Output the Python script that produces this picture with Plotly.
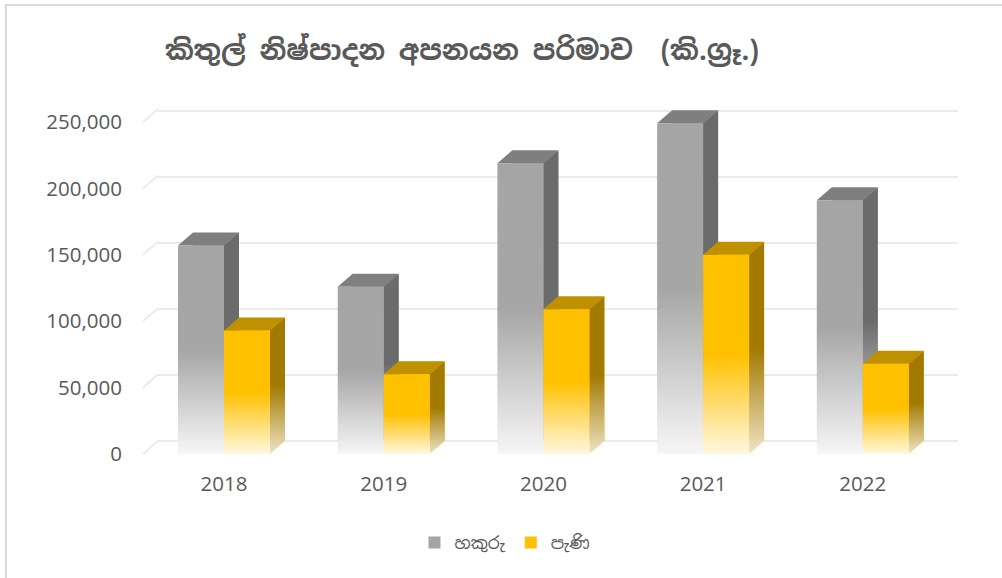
import plotly.graph_objects as go

# ---------------- data ----------------
years = ["2018", "2019", "2020", "2021", "2022"]
hakuru = [157000, 126000, 219000, 249000, 191000]
pani = [93000, 60000, 109000, 150000, 68000]
series_names = ["හකුරු", "පැණි"]
y_ticks = [0, 50000, 100000, 150000, 200000, 250000]
y_tick_text = ["0", "50,000", "100,000", "150,000", "200,000", "250,000"]
title_text = "කිතුල් නිෂ්පාදන අපනයන පරිමාව  (කි.ග්‍රෑ.)"

# ---------------- geometry (pixels) ----------------
W, H = 1002, 578
L, R, T, B = 143, 44, 95, 117
PW, PH = W - L - R, H - T - B
FRONT_X0, FRONT_X1 = 143, 943
FRONT_Y_TOP, FRONT_Y_BOT = 106, 461
DEPTH_DX, DEPTH_DY = 15, 13
CAT_PX, FIRST_CAT_PX = 159.7, 224
ZERO_PX = 454
Y_PX_PER_UNIT = 66.4 / 50000
BAR_W_PX = 46

xa = (FRONT_X0 - FIRST_CAT_PX) / CAT_PX
xb = (FRONT_X1 - FIRST_CAT_PX) / CAT_PX
Y0 = -(FRONT_Y_BOT - ZERO_PX) / Y_PX_PER_UNIT
Y1 = (ZERO_PX - FRONT_Y_TOP) / Y_PX_PER_UNIT
DX = DEPTH_DX / CAT_PX
DY = DEPTH_DY / Y_PX_PER_UNIT
BW = BAR_W_PX / CAT_PX

front_xdom = [(FRONT_X0 - L) / PW, (FRONT_X1 - L) / PW]
back_xdom = [(FRONT_X0 + DEPTH_DX - L) / PW, min(1, (FRONT_X1 + DEPTH_DX - L) / PW)]
front_ydom = [(H - B - FRONT_Y_BOT) / PH, (H - B - FRONT_Y_TOP) / PH]
back_ydom = [(H - B - FRONT_Y_BOT + DEPTH_DY) / PH, min(1, (H - B - FRONT_Y_TOP + DEPTH_DY) / PH)]

styles = [
    dict(front=[[0, "#F6F6F6"], [0.5, "#A6A6A6"], [1, "#A5A5A5"]],
         side=[[0, "#EDEDED"], [0.5, "#6B6B6B"], [1, "#6B6B6B"]],
         top="#7F7F7F", solid="#A5A5A5"),
    dict(front=[[0, "#FFF8E0"], [0.5, "#FFC000"], [1, "#FFC000"]],
         side=[[0, "#EFE4C6"], [0.5, "#A27A00"], [1, "#A27A00"]],
         top="#BF9000", solid="#FFC000"),
]

fig = go.Figure()

# back faces of the boxes on the back-wall subplot (hidden behind the box, give the legend)
for s, (vals, name) in enumerate(zip([hakuru, pani], series_names)):
    fig.add_trace(go.Bar(
        x=list(range(len(years))), y=vals, width=BW, offset=(-BW if s == 0 else 0),
        marker=dict(color=styles[s]["solid"], line=dict(width=0)),
        name=name, legendgroup=name, xaxis="x", yaxis="y",
        customdata=years, hovertemplate=name + " %{customdata}: %{y:,}<extra></extra>"))

# depth connectors at the left edge, from the front plane to the wall
for v in y_ticks:
    fig.add_trace(go.Scatter(
        x=[xa, xa + DX], y=[v, v + DY],
        mode="lines", line=dict(color="#E6E6E6", width=1.5),
        xaxis="x2", yaxis="y2", showlegend=False, hoverinfo="skip"))

for i, yr in enumerate(years):
    for s, (vals, name) in enumerate(zip([hakuru, pani], series_names)):
        v = vals[i]
        st = styles[s]
        xl = i - BW if s == 0 else i
        xr = xl + BW
        # side face
        fig.add_trace(go.Scatter(
            x=[xr, xr, xr + DX, xr + DX, xr], y=[0, v, v + DY, DY, 0],
            mode="none", fill="toself",
            fillgradient=dict(type="vertical", colorscale=st["side"]),
            xaxis="x2", yaxis="y2", showlegend=False, hoverinfo="skip"))
        # top face
        fig.add_trace(go.Scatter(
            x=[xl, xl + DX, xr + DX, xr, xl], y=[v, v + DY, v + DY, v, v],
            mode="none", fill="toself", fillcolor=st["top"],
            xaxis="x2", yaxis="y2", showlegend=False, hoverinfo="skip"))
        # front face
        fig.add_trace(go.Scatter(
            x=[xl, xl, xr, xr, xl], y=[0, v, v, 0, 0],
            mode="none", fill="toself",
            fillgradient=dict(type="vertical", colorscale=st["front"]),
            name=name, legendgroup=name, showlegend=False,
            xaxis="x2", yaxis="y2",
            hovertemplate=f"{name} {yr}: {v:,}<extra></extra>"))

tick_font = dict(family="Open Sans, Noto Sans, sans-serif", size=20.5, color="#595959")


def px_x(p):
    return (p - L) / PW


def px_y(p):
    return (H - B - p) / PH


fig.update_layout(
    width=W, height=H,
    margin=dict(l=L, r=R, t=T, b=B),
    paper_bgcolor="white", plot_bgcolor="rgba(0,0,0,0)",
    barmode="overlay",
    title=dict(text=f"<b>{title_text}</b>", x=462 / W, xanchor="center",
               y=1 - 50 / H, yanchor="middle", yref="container", xref="container",
               font=dict(family="Noto Sans Sinhala, Noto Sans, DejaVu Sans, sans-serif",
                         size=27.5, color="#595959")),
    xaxis=dict(domain=back_xdom, range=[xa, xb], anchor="y", showgrid=False,
               zeroline=False, showticklabels=False, ticks=""),
    yaxis=dict(domain=back_ydom, range=[Y0, Y1], anchor="x", showgrid=True,
               gridcolor="#EBEBEB", gridwidth=2, tickvals=y_ticks,
               zeroline=True, zerolinecolor="#EBEBEB", zerolinewidth=2,
               showticklabels=False, ticks=""),
    xaxis2=dict(domain=front_xdom, range=[xa, xb], anchor="y2", showgrid=False,
                zeroline=False, tickvals=list(range(len(years))), ticktext=years,
                tickfont=tick_font, ticks="", ticklabelstandoff=8),
    yaxis2=dict(domain=front_ydom, range=[Y0, Y1], anchor="x2", showgrid=False,
                zeroline=False, tickvals=y_ticks, ticktext=y_tick_text,
                tickfont=tick_font, ticks="", ticklabelstandoff=20),
    legend=dict(orientation="h", xref="container", yref="container",
                x=505 / W, xanchor="center", y=1 - 543 / H, yanchor="middle",
                font=dict(family="Noto Sans Sinhala, Noto Sans, DejaVu Sans, sans-serif",
                          size=17, color="#595959"),
                itemwidth=30, bgcolor="rgba(0,0,0,0)"),
    shapes=[
        dict(type="line", xref="paper", yref="paper",
             x0=px_x(5), x1=px_x(1002), y0=px_y(5), y1=px_y(5),
             line=dict(color="#D9D9D9", width=2)),
        dict(type="line", xref="paper", yref="paper",
             x0=px_x(6), x1=px_x(6), y0=px_y(5), y1=px_y(578),
             line=dict(color="#D9D9D9", width=2)),
    ],
)

fig.write_html("out.html", config={"displayModeBar": False},
               post_script="document.body.style.margin='0';")
